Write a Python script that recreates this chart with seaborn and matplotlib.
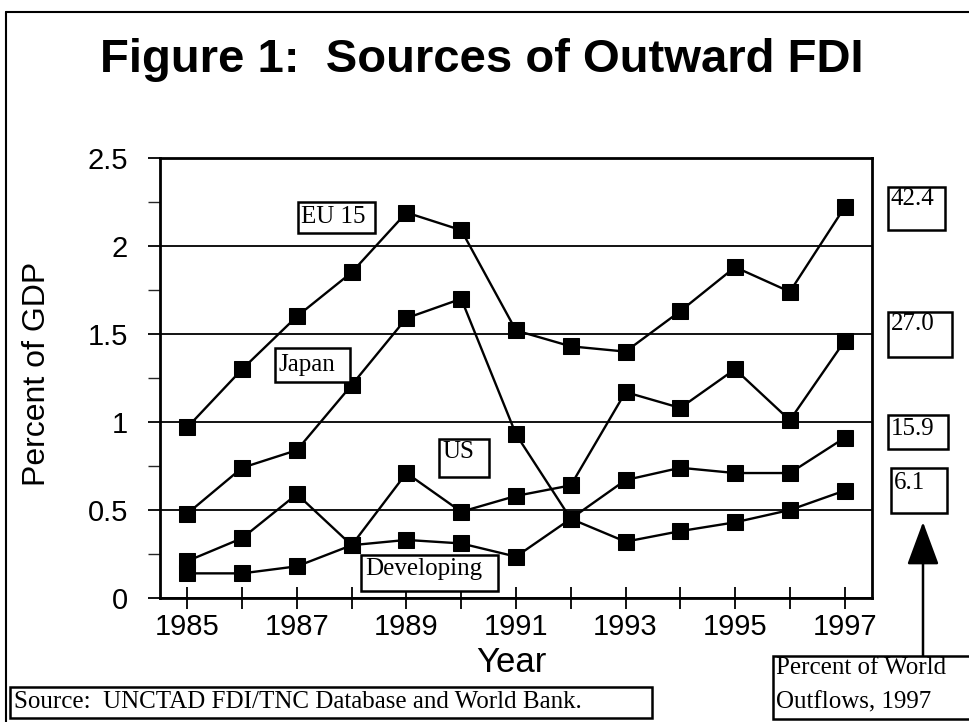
import numpy as np
import pandas as pd
import matplotlib
matplotlib.use('Agg')
import matplotlib.pyplot as plt
import seaborn as sns
from matplotlib.patches import Rectangle, FancyArrowPatch
from matplotlib.lines import Line2D
from matplotlib.ticker import MultipleLocator, FixedLocator

# ---------------- data ----------------
years = list(range(1985, 1998))
eu15 = [0.97, 1.30, 1.60, 1.85, 2.19, 2.09, 1.52, 1.43, 1.40, 1.63, 1.88, 1.74, 2.22]
japan = [0.48, 0.74, 0.84, 1.21, 1.59, 1.70, 0.93, 0.45, 0.32, 0.38, 0.43, 0.50, 0.61]
us = [0.21, 0.34, 0.59, 0.30, 0.71, 0.49, 0.58, 0.64, 1.17, 1.08, 1.30, 1.01, 1.46]
developing = [0.14, 0.14, 0.18, 0.30, 0.33, 0.31, 0.235, 0.45, 0.67, 0.74, 0.71, 0.71, 0.91]
series_names = ['EU 15', 'Japan', 'US', 'Developing']
world_share_1997 = ['42.4', '27.0', '15.9', '6.1']
xtick_labels = [str(y) if y % 2 == 1 else '' for y in years]
ytick_values = [0, 0.5, 1, 1.5, 2, 2.5]
ytick_labels = ['0', '0.5', '1', '1.5', '2', '2.5']

df = pd.DataFrame({
    'Year': years * 4,
    'Value': eu15 + japan + us + developing,
    'Series': np.repeat(series_names, len(years)),
})

# ---------------- style ----------------
sns.set_theme(style='white')
SANS = ['Liberation Sans', 'DejaVu Sans']
SERIF = ['Liberation Serif', 'DejaVu Serif']
plt.rcParams['font.family'] = SANS

W, H = 970, 722
fig = plt.figure(figsize=(W / 100, H / 100), dpi=100)
fig.patch.set_facecolor('white')

def fx(x):
    return x / W

def fy(y):
    return 1 - y / H

ax = fig.add_axes([fx(160), fy(598), fx(872) - fx(160), fy(158) - fy(598)])

sns.lineplot(data=df, x='Year', y='Value', units='Series', estimator=None,
             color='black', marker='s', markersize=11, markeredgecolor='black',
             markerfacecolor='black', linewidth=1.7, ax=ax, legend=False)

ax.set_xlim(1984.5, 1997.5)
ax.set_ylim(0, 2.5)
ax.set_facecolor('white')

# gridlines
ax.yaxis.grid(True, which='major', color='black', linewidth=1.3)
ax.xaxis.grid(False)
ax.set_axisbelow(True)

for side, sp in ax.spines.items():
    sp.set_visible(True)
    sp.set_color('black')
    sp.set_linewidth(2.0)

ax.xaxis.set_major_locator(FixedLocator(years))
ax.set_xticklabels(xtick_labels)
ax.yaxis.set_major_locator(FixedLocator(ytick_values))
ax.set_yticklabels(ytick_labels)
ax.yaxis.set_minor_locator(MultipleLocator(0.25))

ax.tick_params(axis='x', which='major', direction='inout', length=16, width=1.3,
               pad=3, labelsize=21, colors='black', bottom=True, top=False)
ax.tick_params(axis='y', which='major', direction='out', length=9, width=1.3,
               pad=14, labelsize=21, colors='black', left=True, right=False)
ax.tick_params(axis='y', which='minor', direction='out', length=9, width=1.0,
               left=True, right=False)

ax.set_xlabel('Year', fontsize=25, color='black')
ax.set_ylabel('Percent of GDP', fontsize=23, color='black')
ax.xaxis.set_label_coords((511 - 160) / 712, (598 - 646) / 440)
ax.yaxis.set_label_coords((52 - 160) / 712, (598 - 374) / 440)

# ---------------- title ----------------
fig.text(fx(482), fy(60), 'Figure 1:  Sources of Outward FDI', ha='center', va='center',
         fontsize=34, fontweight='bold', color='black', family=SANS)

# ---------------- boxed annotations ----------------
def box(x0, y0, x1, y1, lw=1.8):
    fig.add_artist(Rectangle((fx(x0), fy(y1)), fx(x1) - fx(x0), fy(y0) - fy(y1),
                             transform=fig.transFigure, facecolor='white',
                             edgecolor='black', linewidth=lw, zorder=5))

def label(x, y, s, size=18):
    fig.text(fx(x), fy(y), s, ha='left', va='baseline', fontsize=size, family=SERIF,
             color='black', zorder=6)

# series labels inside plot
box(298, 202, 375, 233); label(301, 223, series_names[0])
box(275, 348, 350, 382); label(279, 371, series_names[1])
box(439, 439, 489, 477); label(442, 458, series_names[2])
box(361, 555, 498, 591); label(365, 575, series_names[3])

# world share boxes
box(888, 187, 945, 230); label(891, 205, world_share_1997[0])
box(888, 312, 952, 357); label(891, 330, world_share_1997[1])
box(888, 415, 948, 449); label(891, 435, world_share_1997[2])
box(891, 468, 947, 513); label(894, 489, world_share_1997[3])

# percent of world box
box(773, 656, 972, 719); label(776, 674, 'Percent of World'); label(776, 708, 'Outflows, 1997')

# source box
box(10, 687, 652, 718); label(14, 708, 'Source:  UNCTAD FDI/TNC Database and World Bank.')

# arrow
arrow = FancyArrowPatch((fx(923), fy(656)), (fx(923), fy(522)), transform=fig.transFigure,
                        arrowstyle='-|>,head_length=2.7,head_width=1.0', mutation_scale=10,
                        color='black', linewidth=1.8, shrinkA=0, shrinkB=0)
fig.add_artist(arrow)

# outer frame (left and top)
fig.add_artist(Line2D([fx(6), fx(6)], [0, fy(12)], transform=fig.transFigure, color='black', lw=1.5))
fig.add_artist(Line2D([fx(6), 1], [fy(12), fy(12)], transform=fig.transFigure, color='black', lw=1.5))

fig.savefig('out.png', dpi=100, facecolor='white')
